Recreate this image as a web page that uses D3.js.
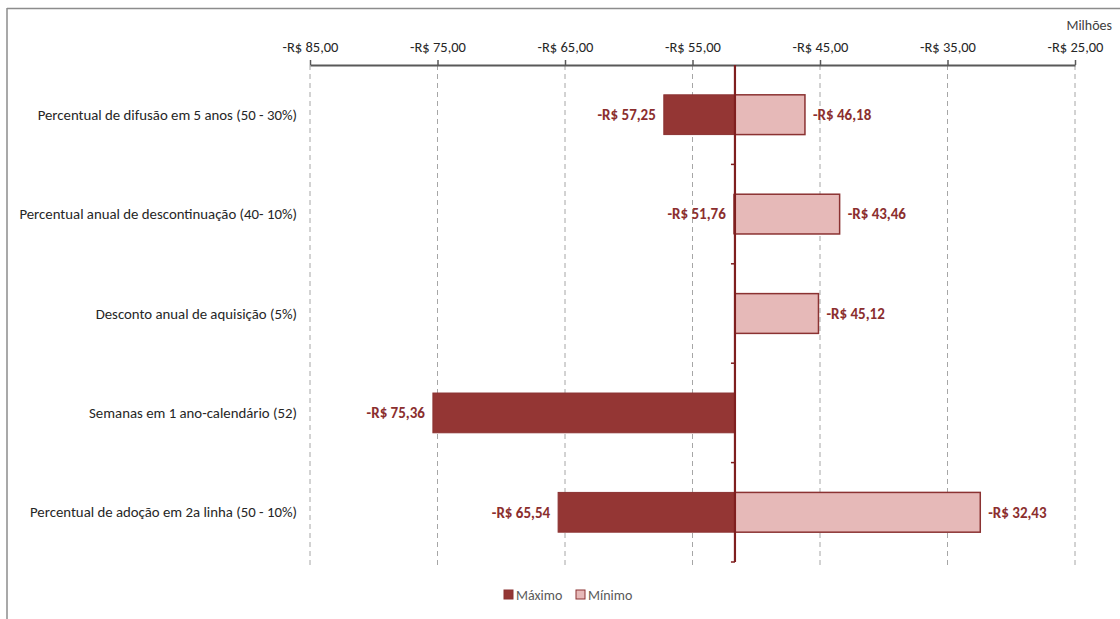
<!DOCTYPE html>
<html><head><meta charset="utf-8">
<script src="https://cdn.jsdelivr.net/npm/d3@7"></script>
<style>
html,body{margin:0;padding:0;background:#fff;}
svg{display:block;font-family:Carlito,Lato,"Liberation Sans",sans-serif;}
</style></head>
<body><svg id="chart" width="1120" height="619"></svg>
<script>
const categories = [
  "Percentual de difusão em 5 anos (50 - 30%)",
  "Percentual anual de descontinuação (40- 10%)",
  "Desconto anual de aquisição (5%)",
  "Semanas em 1 ano-calendário (52)",
  "Percentual de adoção em 2a linha (50 - 10%)"
];
const maxValues = [-57.25, -51.76, null, -75.36, -65.54];
const minValues = [-46.18, -43.46, -45.12, null, -32.43];
const baseValue = -51.67;
const tickValues = [-85, -75, -65, -55, -45, -35, -25];
const seriesNames = ["Máximo", "Mínimo"];
const unitLabel = "Milhões";

const svg = d3.select("#chart");
const colMax = "#943634", colMin = "#E6B9B8", colEdge = "#8B3232", colLabel = "#8B2E2E";

// frame
svg.append("line").attr("x1",7).attr("x2",1120).attr("y1",8.5).attr("y2",8.5).attr("stroke","#8c8c8c").attr("stroke-width",1.5);
svg.append("line").attr("x1",7).attr("x2",7).attr("y1",8).attr("y2",619).attr("stroke","#8c8c8c").attr("stroke-width",1.5);

const x = d3.scaleLinear().domain([-85, -25]).range([310, 1075]);
const y = d3.scaleBand().domain(categories).range([65, 562]).paddingInner(0.6).paddingOuter(0.3);
const band = d3.scaleBand().domain(categories).range([65, 562]);

const fmt = v => "-R$ " + d3.format(".2f")(Math.abs(v)).replace(".", ",");

// gridlines
svg.append("g").selectAll("line").data(tickValues).join("line")
  .attr("x1", d => x(d)).attr("x2", d => x(d)).attr("y1", 65).attr("y2", 565)
  .attr("stroke", "#a6a6a6").attr("stroke-dasharray", "5,4").attr("stroke-width", 1);

// top axis
const axis = d3.axisTop(x).tickValues(tickValues).tickFormat(fmt).tickSize(5).tickSizeOuter(0);
const ag = svg.append("g").attr("transform", "translate(0,65)").call(axis);
ag.select(".domain").attr("stroke", "#595959").attr("stroke-width", 2);
ag.selectAll(".tick line").attr("stroke", "#595959").attr("stroke-width", 1.5);
ag.selectAll(".tick text").attr("fill", "#262626").attr("font-size", 14.5).attr("dy", "-0.35em")
  .attr("font-family", "Carlito,Lato,sans-serif");

svg.append("text").attr("x", 1112).attr("y", 30).attr("text-anchor", "end")
  .attr("font-size", 14).attr("fill", "#404040").text(unitLabel);

// bars
const maxData = categories.map((c, i) => ({c, v: maxValues[i]})).filter(d => d.v !== null);
const minData = categories.map((c, i) => ({c, v: minValues[i]})).filter(d => d.v !== null);

svg.append("g").selectAll("rect").data(maxData).join("rect")
  .attr("x", d => Math.min(x(d.v), x(baseValue))).attr("width", d => Math.abs(x(d.v) - x(baseValue)))
  .attr("y", d => y(d.c)).attr("height", y.bandwidth())
  .attr("fill", colMax).attr("stroke", colEdge).attr("stroke-width", 1);
svg.append("g").selectAll("rect").data(minData).join("rect")
  .attr("x", d => Math.min(x(d.v), x(baseValue))).attr("width", d => Math.abs(x(d.v) - x(baseValue)))
  .attr("y", d => y(d.c)).attr("height", y.bandwidth())
  .attr("fill", colMin).attr("stroke", colEdge).attr("stroke-width", 1.5);

// labels
svg.append("g").selectAll("text").data(maxData).join("text")
  .attr("x", d => x(d.v) - 8).attr("y", d => y(d.c) + y.bandwidth() / 2).attr("dy", "0.35em")
  .attr("text-anchor", "end").attr("font-weight", "bold").attr("font-size", 15).attr("fill", colLabel)
  .text(d => fmt(d.v));
svg.append("g").selectAll("text").data(minData).join("text")
  .attr("x", d => x(d.v) + 8).attr("y", d => y(d.c) + y.bandwidth() / 2).attr("dy", "0.35em")
  .attr("text-anchor", "start").attr("font-weight", "bold").attr("font-size", 15).attr("fill", colLabel)
  .text(d => fmt(d.v));

// category axis at base
const bx = x(baseValue);
svg.append("line").attr("x1", bx).attr("x2", bx).attr("y1", 65).attr("y2", 562)
  .attr("stroke", "#7f1f1f").attr("stroke-width", 2.2);
const bounds = categories.map(c => band(c) + band.bandwidth());
svg.append("g").selectAll("line").data(bounds).join("line")
  .attr("x1", bx - 4).attr("x2", bx).attr("y1", d => d).attr("y2", d => d)
  .attr("stroke", "#7f1f1f").attr("stroke-width", 1.5);

// category labels
svg.append("g").selectAll("text").data(categories).join("text")
  .attr("x", 297).attr("y", d => y(d) + y.bandwidth() / 2).attr("dy", "0.35em")
  .attr("text-anchor", "end").attr("font-size", 14.8).attr("fill", "#262626").text(d => d);

// legend
const lg = svg.append("g").attr("transform", "translate(504,595)");
const lx = [0, 72];
seriesNames.forEach((n, i) => {
  lg.append("rect").attr("x", lx[i]).attr("y", -5).attr("width", 9).attr("height", 9)
    .attr("fill", i === 0 ? colMax : colMin).attr("stroke", colEdge).attr("stroke-width", 1);
  lg.append("text").attr("x", lx[i] + 12).attr("y", 0).attr("dy", "0.35em")
    .attr("font-size", 14).attr("fill", "#595959").text(n);
});
</script></body></html>
